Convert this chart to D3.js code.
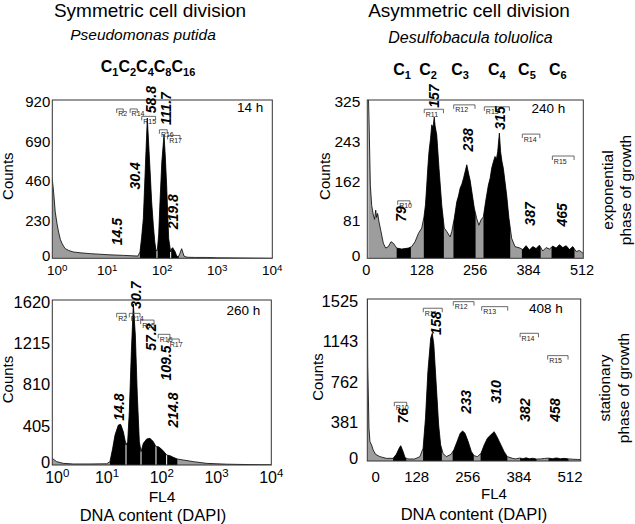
<!DOCTYPE html>
<html lang="en">
<head>
<meta charset="utf-8">
<title>DNA content histograms</title>
<script src="https://cdnjs.cloudflare.com/ajax/libs/d3/7.8.5/d3.min.js"></script>
<style>
  body { margin: 0; background: #fff; }
  svg text { font-family: "Liberation Sans", Arial, Helvetica, sans-serif; fill: #000; }
</style>
</head>
<body>
<script>
// ---- data ----
// P. putida, 14 h (log channel)
var dnaA = [1.0, 1.06, 1.13, 1.22, 1.30, 1.40, 1.50, 1.62, 1.72, 2.0, 2.4, 3.2, 4.9, 7.0, 9.9, 14, 19.8, 27, 36, 39.3, 42, 45.2, 49.1, 53.4, 59.7, 64, 68.7, 73, 76.8, 81.2, 86, 90.8, 98, 107.4, 113, 120, 130.6, 142, 148, 154.4, 162, 170.3, 182, 195.6, 210, 224.8, 236, 248, 270, 297, 400, 641, 1000, 2588, 5000, 10000];
var countsA = [460, 380, 270, 200, 153, 110, 87, 68, 56, 45, 37, 32, 27, 24, 21, 19, 17, 15, 13, 37, 120, 231, 522, 815, 522, 330, 192, 95, 47, 45, 140, 328, 560, 718, 600, 425, 115, 37, 55, 62, 50, 40, 15, 8, 30, 56, 35, 13, 8, 6, 5, 5, 3, 2, 1, 0];
var gatesA = [[39.3, 80], [80, 142], [142, 198]];
var peaksA = ["14.5", "30.4", "58.8", "111.7", "219.8"];
var peakAtA = [14.5, 30.4, 58.8, 111.7, 152];
var peakLevelA = [155, 479, 922, 870, 270];
var regA = ["R2", "R14", "R15", "R16", "R17"];
var regLoA = [14.8, 26, 42.3, 88.5, 125];
var regHiA = [19.5, 35, 75.6, 123, 210];
var regLevelA = [868, 868, 825, 747, 714];

// D. toluolica, 240 h (linear channel)
var dnaB = [0, 1.7, 4.9, 8.1, 12, 15, 17.7, 20, 22.4, 25.6, 30.4, 36, 41.6, 48, 54.4, 60, 68, 80, 96, 104, 112, 120, 128, 133.4, 137, 140, 142.5, 145.4, 149, 152, 155, 158, 160, 164, 169.4, 176, 182, 188, 196, 200, 206, 212, 216, 220, 224, 228, 232, 236, 241, 244, 248, 254, 259.6, 265, 270, 275.6, 281, 287.6, 292, 295.6, 299, 303.5, 307, 310, 314, 317, 320, 323.5, 331.5, 337, 343.5, 351.5, 363.4, 370, 378, 386, 394, 402, 410, 418, 426, 434, 442, 450, 458, 466, 474, 482, 490, 498, 506, 515];
var countsB = [340, 287, 150, 109, 89, 80, 99, 84, 92, 75, 55, 31, 21, 24, 34, 31, 21, 19, 21, 24, 34, 51, 62, 85, 110, 150, 185, 219, 245, 274, 268, 290, 272, 253, 185, 109, 62, 55, 44, 55, 82, 116, 128, 144, 152, 164, 178, 192, 171, 160, 137, 103, 82, 68, 79, 85, 116, 150, 165, 185, 196, 209, 204, 219, 257, 219, 200, 185, 130, 82, 41, 24, 21, 18, 26, 17, 24, 20, 27, 15, 22, 19, 25, 21, 28, 22, 26, 18, 24, 14, 16, 10];
var gatesB = [[68, 102], [133, 181], [204, 257], [276, 340], [368, 413], [439, 494]];
var peaksB = ["79", "157", "238", "315", "387", "465"];
var peakAtB = [79, 157, 238, 315, 387, 465];
var peakLevelB = [91, 333, 243, 288, 91, 89];
var regB = ["R10", "R11", "R12", "R13", "R14", "R15"];
var regLoB = [70.4, 134, 204.6, 278, 369, 441];
var regHiB = [99.9, 180, 255.6, 338, 411, 493];
var regLevelB = [118, 306, 315, 311, 255, 210];

// P. putida, 260 h
var dnaC = [1.0, 1.2, 1.59, 2.42, 4.88, 9.84, 11.3, 12.67, 13.97, 16.07, 17.73, 19.84, 22.18, 23.8, 25.5, 27.8, 30.2, 32.85, 35.7, 38.9, 41.7, 46, 52.9, 60.9, 70, 78.3, 86.4, 95.3, 109.7, 122.7, 141, 162.5, 192, 247, 376, 660, 1530, 4000, 10000];
var countsC = [65, 33, 16, 10, 10, 12, 33, 164, 294, 392, 399, 327, 196, 229, 523, 1112, 1580, 1276, 687, 229, 131, 213, 255, 262, 229, 180, 180, 164, 131, 98, 92, 75, 59, 49, 33, 16, 8, 4, 2];
var gatesC = [[11.3, 22.2], [22.2, 41.7], [41.7, 78.3], [78.3, 122.7], [122.7, 192]];
var peaksC = ["14.8", "30.7", "57.2", "109.5", "214.8"];
var peakAtC = [14.8, 30.7, 57.2, 109.5, 146];
var peakLevelC = [569, 1668, 1256, 1001, 540];
var regC = ["R2", "R14", "R15", "R16", "R17"];
var regLoC = [15.0, 25.5, 41.1, 86, 131];
var regHiC = [22.2, 40, 72, 141, 208];
var regLevelC = [1489, 1489, 1423, 1283, 1237];

// D. toluolica, 408 h
var dnaD = [4.5, 5.5, 8.5, 11, 15, 19, 25, 36, 52, 69, 77, 84, 88, 94, 99, 106, 123, 136, 144, 150, 156, 163, 167, 171, 177, 183, 188, 194, 202, 214, 221, 229, 237, 243, 249, 257, 265, 272, 280, 289, 297, 305, 315, 322, 329, 339, 347, 355, 368, 376, 386, 394, 402, 410, 418, 428, 438, 448, 458, 468, 478, 488, 498, 508, 518, 530, 538];
var countsD = [1600, 900, 308, 182, 151, 104, 63, 41, 25, 25, 63, 120, 144, 88, 31, 19, 19, 41, 120, 402, 841, 1155, 1202, 1092, 716, 339, 151, 72, 41, 63, 104, 182, 261, 282, 261, 182, 88, 50, 41, 72, 151, 214, 251, 276, 229, 151, 88, 41, 25, 20, 28, 22, 30, 21, 26, 18, 20, 24, 27, 22, 29, 21, 25, 20, 17, 15, 14];
var gatesD = [[69, 102], [144, 191], [218, 271], [288, 355], [387, 428], [458, 508]];
var peaksD = ["76", "158", "233", "310", "382", "458"];
var peakAtD = [76, 158, 233, 310, 382, 458];
var peakLevelD = [427, 1297, 558, 650, 480, 480];
var regD = ["R10", "R11", "R12", "R13", "R14", "R15"];
var regLoD = [72, 144.5, 219.6, 290.8, 387, 456];
var regHiD = [103, 192, 271.5, 356, 433, 507];
var regLevelD = [553, 1438, 1500, 1453, 1202, 992];

var logTicks = [1, 10, 100, 1000, 10000];
var linTicks = [0, 128, 256, 384, 512];
var yTicksA = [0, 230, 460, 690, 920];
var yTicksB = [0, 81, 162, 243, 325];
var yTicksC = [0, 405, 810, 1215, 1620];
var yTicksD = [0, 381, 762, 1143, 1525];

var cLeft = ["1", "2", "4", "8", "16"];
var cRight = ["1", "2", "3", "4", "5", "6"];
var cRightAt = [81, 143, 220, 308, 380, 454];

// ---- drawing ----
var w = 635, h = 524;
var grey = "#9d9d9d";

var svg = d3.select("body").append("svg")
  .attr("width", w)
  .attr("height", h);
svg.append("rect").attr("width", w).attr("height", h).attr("fill", "#fff");
var defs = svg.append("defs");

function drawPanel(p) {
  var x = (p.log ? d3.scaleLog() : d3.scaleLinear()).domain(p.xDomain).range([p.left, p.right]);
  var y = d3.scaleLinear().domain([0, p.yMax]).range([p.bottom, p.top]);
  var pts = p.dna.map(function(d, i) { return [d, p.counts[i]]; });

  var area = d3.area().x(function(d) { return x(d[0]); }).y0(y(0)).y1(function(d) { return y(d[1]); });
  var line = d3.line().x(function(d) { return x(d[0]); }).y(function(d) { return y(d[1]); });

  defs.append("clipPath").attr("id", p.id + "-frame").append("rect")
    .attr("x", p.left).attr("y", p.top)
    .attr("width", p.right - p.left).attr("height", p.bottom - p.top);
  defs.append("clipPath").attr("id", p.id + "-area").append("path")
    .datum(pts).attr("d", area);

  var g = svg.append("g").attr("clip-path", "url(#" + p.id + "-frame)");
  g.append("path").datum(pts).attr("d", area).attr("fill", grey);

  p.gates.forEach(function(gt, i) {
    var cid = p.id + "-gate" + i;
    defs.append("clipPath").attr("id", cid).append("rect")
      .attr("x", x(gt[0])).attr("y", p.top - 20)
      .attr("width", x(gt[1]) - x(gt[0])).attr("height", p.bottom - p.top + 40);
    g.append("g").attr("clip-path", "url(#" + cid + ")")
      .append("path").datum(pts).attr("d", area).attr("fill", "#000");
  });

  // white separators where two gates touch
  var sep = g.append("g").attr("clip-path", "url(#" + p.id + "-area)");
  p.gates.forEach(function(gt, i) {
    if (i > 0 && gt[0] === p.gates[i - 1][1]) {
      sep.append("line")
        .attr("x1", x(gt[0])).attr("x2", x(gt[0]))
        .attr("y1", p.bottom).attr("y2", p.top)
        .attr("stroke", "#fff").attr("stroke-width", 1);
    }
  });

  g.append("path").datum(pts).attr("d", line)
    .attr("fill", "none").attr("stroke", "#000").attr("stroke-width", 0.8);

  svg.append("rect")
    .attr("x", p.left).attr("y", p.top)
    .attr("width", p.right - p.left).attr("height", p.bottom - p.top)
    .attr("fill", "none").attr("stroke", "#333").attr("stroke-width", 1);

  // y tick labels
  svg.selectAll(null).data(p.yTicks).enter().append("text")
    .attr("x", p.left - p.yLabelGap)
    .attr("y", function(d) { return y(d) + (d === 0 ? -3 : 2); })
    .attr("dy", "0.35em")
    .attr("text-anchor", "end")
    .attr("font-size", p.yFont + "px")
    .text(function(d) { return d; });

  // x tick labels
  var xt = svg.selectAll(null).data(p.xTicks).enter().append("text")
    .attr("x", function(d, i) { return x(d) + (i === 0 ? p.zeroDx : 0); })
    .attr("y", p.bottom + p.xLabelGap)
    .attr("text-anchor", "middle")
    .attr("font-size", p.xFont + "px");
  if (p.log) {
    xt.append("tspan").text("10");
    xt.append("tspan").attr("dy", "-0.45em").attr("font-size", (p.xFont * 0.72) + "px")
      .text(function(d) { return Math.round(Math.log10(d)); });
  } else {
    xt.text(function(d) { return d; });
  }

  // "Counts"
  svg.append("text")
    .attr("transform", "translate(" + p.countsX + "," + ((p.top + p.bottom) / 2 - 3) + ") rotate(-90)")
    .attr("text-anchor", "middle")
    .attr("font-size", "15px")
    .text("Counts");

  // region brackets
  p.regions.forEach(function(r, i) {
    var x0 = x(p.regLo[i]), x1 = x(p.regHi[i]), yy = y(p.regLevel[i]);
    svg.append("path")
      .attr("d", "M" + x0 + "," + (yy + 4) + "V" + yy + "H" + x1 + "V" + (yy + 4))
      .attr("fill", "none").attr("stroke", "#444").attr("stroke-width", 0.8);
    svg.append("text")
      .attr("x", x0 + 1.5).attr("y", yy + 7.5)
      .attr("font-size", "7px").style("fill", "#222")
      .text(r);
  });

  // peak labels
  p.peaks.forEach(function(t, i) {
    svg.append("text")
      .attr("transform", "translate(" + (x(p.peakAt[i]) + p.peakDx) + "," + y(p.peakLevel[i]) + ") rotate(-90)")
      .attr("text-anchor", "middle")
      .attr("font-size", "14px")
      .attr("font-weight", "bold")
      .attr("font-style", "italic")
      .text(t);
  });

  // time
  svg.append("text")
    .attr("x", p.right - p.timeDx).attr("y", p.top + p.timeDy)
    .attr("text-anchor", "end")
    .attr("font-size", "13.5px")
    .text(p.time);

  return x;
}

drawPanel({
  id: "pa", log: true, xDomain: [1, 10000], left: 52.3, right: 272.3, top: 100, bottom: 258.3,
  yMax: 920, dna: dnaA, counts: countsA, gates: gatesA,
  yTicks: yTicksA, yFont: 15, yLabelGap: 2, xTicks: logTicks, xFont: 13.5, xLabelGap: 17, zeroDx: 5,
  countsX: 13, regions: regA, regLo: regLoA, regHi: regHiA, regLevel: regLevelA,
  peaks: peaksA, peakAt: peakAtA, peakLevel: peakLevelA, peakDx: 6,
  time: "14 h", timeDx: 9, timeDy: 12
});

var xB = drawPanel({
  id: "pb", log: false, xDomain: [-2.4, 515.1], left: 367.3, right: 583.3, top: 100, bottom: 258.3,
  yMax: 325, dna: dnaB, counts: countsB, gates: gatesB,
  yTicks: yTicksB, yFont: 15.5, yLabelGap: 7, xTicks: linTicks, xFont: 14.5, xLabelGap: 16.7, zeroDx: -2,
  countsX: 330, regions: regB, regLo: regLoB, regHi: regHiB, regLevel: regLevelB,
  peaks: peaksB, peakAt: peakAtB, peakLevel: peakLevelB, peakDx: 5,
  time: "240 h", timeDx: 18, timeDy: 13
});

drawPanel({
  id: "pc", log: true, xDomain: [1, 10000], left: 52.3, right: 271.3, top: 300, bottom: 465,
  yMax: 1620, dna: dnaC, counts: countsC, gates: gatesC,
  yTicks: yTicksC, yFont: 16.5, yLabelGap: 2, xTicks: logTicks, xFont: 16, xLabelGap: 17.5, zeroDx: 5,
  countsX: 13, regions: regC, regLo: regLoC, regHi: regHiC, regLevel: regLevelC,
  peaks: peaksC, peakAt: peakAtC, peakLevel: peakLevelC, peakDx: 7.4,
  time: "260 h", timeDx: 11, timeDy: 15
});

drawPanel({
  id: "pd", log: false, xDomain: [4.3, 538.7], left: 367.3, right: 580.7, top: 299, bottom: 461,
  yMax: 1525, dna: dnaD, counts: countsD, gates: gatesD,
  yTicks: yTicksD, yFont: 16.5, yLabelGap: 9, xTicks: linTicks, xFont: 15, xLabelGap: 20.5, zeroDx: 10,
  countsX: 323, regions: regD, regLo: regLoD, regHi: regHiD, regLevel: regLevelD,
  peaks: peaksD, peakAt: peakAtD, peakLevel: peakLevelD, peakDx: 12,
  time: "408 h", timeDx: 18, timeDy: 14
});

// ---- titles and side labels ----
function label(txt, x, y, size, opts) {
  opts = opts || {};
  var t = svg.append("text").attr("x", x).attr("y", y)
    .attr("text-anchor", "middle").attr("font-size", size + "px").text(txt);
  if (opts.italic) t.attr("font-style", "italic");
  if (opts.rotate) t.attr("transform", "rotate(-90," + x + "," + y + ")");
  return t;
}

label("Symmetric cell division", 150, 17, 19);
label("Asymmetric cell division", 469, 17, 19);
label("Pseudomonas putida", 143, 39.5, 15.5, { italic: true });
label("Desulfobacula toluolica", 470.5, 43, 16, { italic: true });

// C1C2C4C8C16
var cl = svg.append("text").attr("x", 148).attr("y", 71.7)
  .attr("text-anchor", "middle").attr("font-size", "16px").attr("font-weight", "bold");
cLeft.forEach(function(s, i) {
  cl.append("tspan").attr("dy", i === 0 ? 0 : -4).text("C");
  cl.append("tspan").attr("dy", 4).attr("font-size", "11px").text(s);
});

cRight.forEach(function(s, i) {
  var t = svg.append("text").attr("x", xB(cRightAt[i])).attr("y", 75)
    .attr("text-anchor", "middle").attr("font-size", "16px").attr("font-weight", "bold");
  t.append("tspan").text("C");
  t.append("tspan").attr("dy", 4).attr("font-size", "11px").text(s);
});

label("FL4", 162, 501.7, 15.5);
label("DNA content (DAPI)", 153, 521, 16.5);
label("FL4", 494, 499, 15);
label("DNA content (DAPI)", 474, 519.5, 16.5);

label("exponential", 613, 190, 15.5, { rotate: true });
label("phase of growth", 631, 190, 15.5, { rotate: true });
label("stationary", 610, 388, 15.5, { rotate: true });
label("phase of growth", 629, 388, 15.5, { rotate: true });
</script>
</body>
</html>
